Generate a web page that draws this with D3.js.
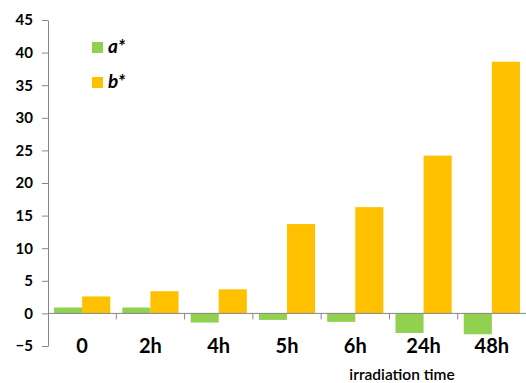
<!DOCTYPE html>
<html>
<head>
<meta charset="utf-8">
<script src="https://cdn.jsdelivr.net/npm/d3@7"></script>
<style>
  html, body { margin: 0; padding: 0; background: #fff; }
  svg { display: block; }
</style>
</head>
<body>
<svg id="chart" width="526" height="383"></svg>
<script>
// Colour coordinates a* and b* over irradiation time
const categories = ["0", "2h", "4h", "5h", "6h", "24h", "48h"];
const aStar = [0.9, 0.9, -1.4, -1.0, -1.3, -3.0, -3.2];
const bStar = [2.6, 3.4, 3.7, 13.7, 16.3, 24.2, 38.6];
const seriesNames = ["a*", "b*"];
const seriesColors = ["#92D050", "#FFC000"];
const yTicks = [-5, 0, 5, 10, 15, 20, 25, 30, 35, 40, 45];

const svg = d3.select("#chart");
const margin = { left: 48, right: 0, top: 20, bottom: 37 };
const W = 526, H = 383;

const x = d3.scaleBand().domain(categories).range([margin.left, 526]).paddingInner(0).paddingOuter(0);
const y = d3.scaleLinear().domain([-5, 45]).range([346, 20]);

const groupPad = 0.215;
const inner = d3.scaleBand().domain(seriesNames)
  .range([0, x.bandwidth()]).paddingInner(0).paddingOuter(groupPad);

const axisColor = "#868686";
const font = "Lato, 'Open Sans', sans-serif";

// bars
const series = [aStar, bStar];
series.forEach((vals, si) => {
  svg.append("g").selectAll("rect").data(vals).join("rect")
    .attr("x", (d, i) => x(categories[i]) + inner(seriesNames[si]))
    .attr("width", inner.bandwidth())
    .attr("y", d => y(Math.max(0, d)))
    .attr("height", d => Math.abs(y(d) - y(0)))
    .attr("fill", seriesColors[si]);
});

// y axis
const yAxis = svg.append("g").attr("transform", `translate(${margin.left},0)`)
  .call(d3.axisLeft(y).tickValues(yTicks).tickSize(6).tickPadding(9).tickSizeOuter(0));
yAxis.select(".domain").attr("stroke", axisColor);
yAxis.selectAll(".tick line").attr("stroke", axisColor);
yAxis.selectAll("text").attr("fill", "#000").style("font-family", font)
  .style("font-size", "15px").style("font-weight", "bold");

// x axis at zero, ticks at category boundaries
const xAxisG = svg.append("g").attr("transform", `translate(0,${y(0)})`);
xAxisG.append("line").attr("x1", margin.left).attr("x2", W)
  .attr("stroke", axisColor);
xAxisG.selectAll("line.tk").data(categories.slice(1)).join("line")
  .attr("class", "tk")
  .attr("x1", d => x(d)).attr("x2", d => x(d))
  .attr("y1", 0).attr("y2", 6).attr("stroke", axisColor);

// category labels below the plot
svg.append("g").selectAll("text").data(categories).join("text")
  .attr("x", d => x(d) + x.bandwidth() / 2)
  .attr("y", 353)
  .attr("text-anchor", "middle")
  .style("font-family", font).style("font-size", "20px").style("font-weight", "bold")
  .text(d => d);

// axis title
svg.append("text").attr("x", 402).attr("y", 380).attr("text-anchor", "middle")
  .style("font-family", font).style("font-size", "15.5px").style("font-weight", "600")
  .text("irradiation time");

// legend
const legend = svg.append("g");
seriesNames.forEach((name, i) => {
  const ly = 42 + i * 35;
  legend.append("rect").attr("x", 92).attr("y", ly).attr("width", 11).attr("height", 11)
    .attr("fill", seriesColors[i]);
  legend.append("text").attr("x", 108).attr("y", ly + 11)
    .style("font-family", font).style("font-size", "19px")
    .style("font-weight", "bold").style("font-style", "italic")
    .text(name);
});
</script>
</body>
</html>
